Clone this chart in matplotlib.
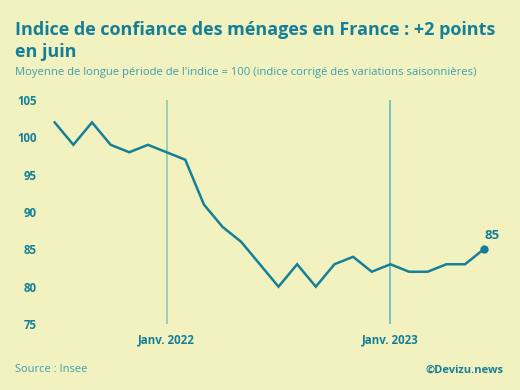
import matplotlib
matplotlib.use("Agg")
import matplotlib.pyplot as plt

months = ["2021-07", "2021-08", "2021-09", "2021-10", "2021-11", "2021-12",
          "2022-01", "2022-02", "2022-03", "2022-04", "2022-05", "2022-06",
          "2022-07", "2022-08", "2022-09", "2022-10", "2022-11", "2022-12",
          "2023-01", "2023-02", "2023-03", "2023-04", "2023-05", "2023-06"]
values = [102, 99, 102, 99, 98, 99,
          98, 97, 91, 88, 86, 83,
          80, 83, 80, 83, 84, 82,
          83, 82, 82, 83, 83, 85]
yticks = [75, 80, 85, 90, 95, 100, 105]
year_marks = ["2022-01", "2023-01"]
year_labels = ["Janv. 2022", "Janv. 2023"]

BG = "#f1f2c0"
TEAL = "#167f98"
LIGHT = "#3f9fb0"
VL_COLORS = ["#9ccbb2", "#6cc0c0"]

plt.rcParams['font.family'] = ['Open Sans', 'DejaVu Sans']

W, H = 520, 390
fig = plt.figure(figsize=(W / 100, H / 100), dpi=100, facecolor=BG)
ax_l, ax_r, ax_t, ax_b = 45, 497, 100, 324
ax = fig.add_axes([ax_l / W, (H - ax_b) / H, (ax_r - ax_l) / W, (ax_b - ax_t) / H])
ax.set_facecolor(BG)

x = list(range(len(months)))
for m, c in zip(year_marks, VL_COLORS):
    xi = months.index(m)
    ax.plot([xi, xi], [75, 105], color=c, lw=1.3, zorder=1)

ax.plot(x, values, color=TEAL, lw=1.8, solid_joinstyle="miter", zorder=3)
ax.plot([x[-1]], [values[-1]], "o", color=TEAL, ms=5, zorder=4)
ax.annotate(str(values[-1]), (x[-1], values[-1]), xytext=(6, 5), textcoords="offset points",
            ha="center", va="bottom", color=TEAL, fontsize=9.5, fontweight="bold")

px = 18.65
ax.set_xlim((ax_l - 54.7) / px, (ax_r - 54.7) / px)
ax.set_ylim(75, 105)
ax.set_yticks(yticks)
ax.set_yticklabels([str(v) for v in yticks])
ax.set_xticks([months.index(m) for m in year_marks])
ax.set_xticklabels(year_labels)
for s in ax.spines.values():
    s.set_visible(False)
ax.tick_params(axis="both", length=0, colors=TEAL, labelsize=8.3)
ax.tick_params(axis="y", pad=6)
ax.tick_params(axis="x", pad=7)
for lab in ax.get_xticklabels() + ax.get_yticklabels():
    lab.set_fontweight("bold")

fig.text(15 / W, 1 - 21 / H, "Indice de confiance des ménages en France : +2 points\nen juin",
         ha="left", va="top", color=TEAL, fontsize=13, fontweight="bold", linespacing=1.3)
fig.text(15 / W, 1 - 73 / H, "Moyenne de longue période de l'indice = 100 (indice corrigé des variations saisonnières)",
         ha="left", va="center", color=LIGHT, fontsize=8.1)
fig.text(15 / W, 1 - 370 / H, "Source : Insee", ha="left", va="center", color=LIGHT, fontsize=8)
fig.text(503 / W, 1 - 370 / H, "©Devizu.news", ha="right", va="center", color=TEAL,
         fontsize=8, fontweight="bold")

fig.savefig("out.png", dpi=100, facecolor=BG)
